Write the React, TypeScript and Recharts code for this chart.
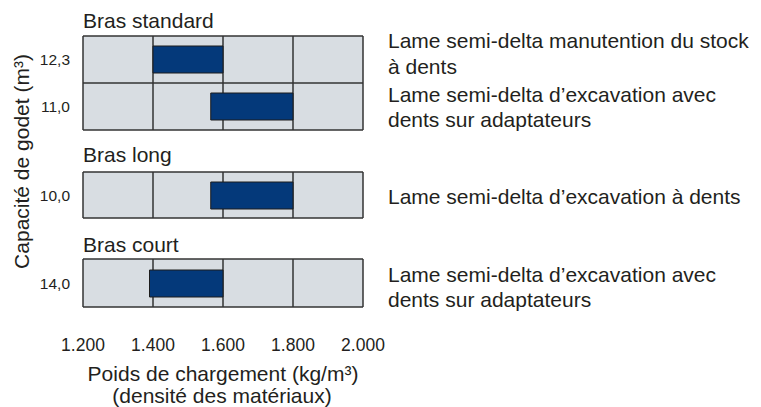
import React from 'react';
import { BarChart, Bar, XAxis, YAxis, CartesianGrid, ReferenceLine } from 'recharts';

const xTicks = [1200, 1400, 1600, 1800, 2000];

const standardCaps = ['12,3', '11,0'];
const standardFrom = [1400, 1565];
const standardTo = [1600, 1800];

const longCaps = ['10,0'];
const longFrom = [1565];
const longTo = [1800];

const courtCaps = ['14,0'];
const courtFrom = [1390];
const courtTo = [1600];

const panelTitles = ['Bras standard', 'Bras long', 'Bras court'];

const bladeLines = [
  'Lame semi-delta manutention du stock',
  'à dents',
  'Lame semi-delta d’excavation avec',
  'dents sur adaptateurs',
  'Lame semi-delta d’excavation à dents',
  'Lame semi-delta d’excavation avec',
  'dents sur adaptateurs'
];
const bladeBaselines = [48, 74, 102, 127, 204, 282, 307];

const FONT = '"Liberation Sans", Arial, Helvetica, sans-serif';
const TEXT = '#231f20';
const GRID = '#333333';

const fmt = (v: number) => `${Math.floor(v / 1000)}.${String(v % 1000).padStart(3, '0')}`;

interface PanelProps {
  caps: string[];
  from: number[];
  to: number[];
  top: number;
  plotHeight: number;
  showAxis?: boolean;
}

const Panel = ({ caps, from, to, top, plotHeight, showAxis = false }: PanelProps) => {
  const data = caps.map((cap, i) => ({ cap, range: [from[i], to[i]] }));
  const axisHeight = showAxis ? 60 : 0;
  return (
    <div style={{ position: 'absolute', left: 0, top: top - 2 }}>
      <BarChart
        width={393}
        height={plotHeight + 4 + axisHeight}
        data={data}
        layout="vertical"
        margin={{ top: 2, right: 30, left: 0, bottom: 2 }}
        barSize={27}
      >
        <CartesianGrid horizontal={false} fill="#d8dde2" fillOpacity={1} stroke={GRID} strokeWidth={1.5} />
        <XAxis
          type="number"
          domain={[1200, 2000]}
          ticks={xTicks}
          hide={!showAxis}
          height={axisHeight}
          axisLine={false}
          tickLine={false}
          tickSize={0}
          tickMargin={32}
          tickFormatter={fmt}
          tick={{ fontSize: 17.5, fill: TEXT, fontFamily: FONT }}
        />
        <YAxis
          type="category"
          dataKey="cap"
          width={83}
          axisLine={false}
          tickLine={false}
          tickSize={0}
          tickMargin={13}
          tick={{ fontSize: 15.5, fill: TEXT, fontFamily: FONT }}
        />
        <ReferenceLine y={caps[0]} position="start" stroke={GRID} strokeWidth={1.5} />
        {caps.map((c) => (
          <ReferenceLine key={c} y={c} position="end" stroke={GRID} strokeWidth={1.5} />
        ))}
        <Bar dataKey="range" fill="#04397a" stroke="#1c1c1c" strokeWidth={1} isAnimationActive={false} />
      </BarChart>
    </div>
  );
};

export default function App() {
  return (
    <div style={{ position: 'absolute', left: 0, top: 0, width: 761, height: 407, background: '#fff' }}>
      <Panel caps={standardCaps} from={standardFrom} to={standardTo} top={36} plotHeight={94} />
      <Panel caps={longCaps} from={longFrom} to={longTo} top={172} plotHeight={46} />
      <Panel caps={courtCaps} from={courtFrom} to={courtTo} top={259} plotHeight={48} showAxis />
      <svg
        width={761}
        height={407}
        style={{ position: 'absolute', left: 0, top: 0, pointerEvents: 'none' }}
        fontFamily={FONT}
        fill={TEXT}
      >
        <text x={83} y={28} fontSize={21}>{panelTitles[0]}</text>
        <text x={83} y={162} fontSize={21}>{panelTitles[1]}</text>
        <text x={83} y={252} fontSize={21}>{panelTitles[2]}</text>
        {bladeLines.map((line, i) => (
          <text key={i} x={388} y={bladeBaselines[i]} fontSize={21}>{line}</text>
        ))}
        <text x={28.5} y={161.5} fontSize={21} textAnchor="middle" transform="rotate(-90 28.5 161.5)">
          Capacité de godet (m³)
        </text>
        <text x={223} y={381} fontSize={21} textAnchor="middle">Poids de chargement (kg/m³)</text>
        <text x={222} y={403} fontSize={21} textAnchor="middle">(densité des matériaux)</text>
      </svg>
    </div>
  );
}
